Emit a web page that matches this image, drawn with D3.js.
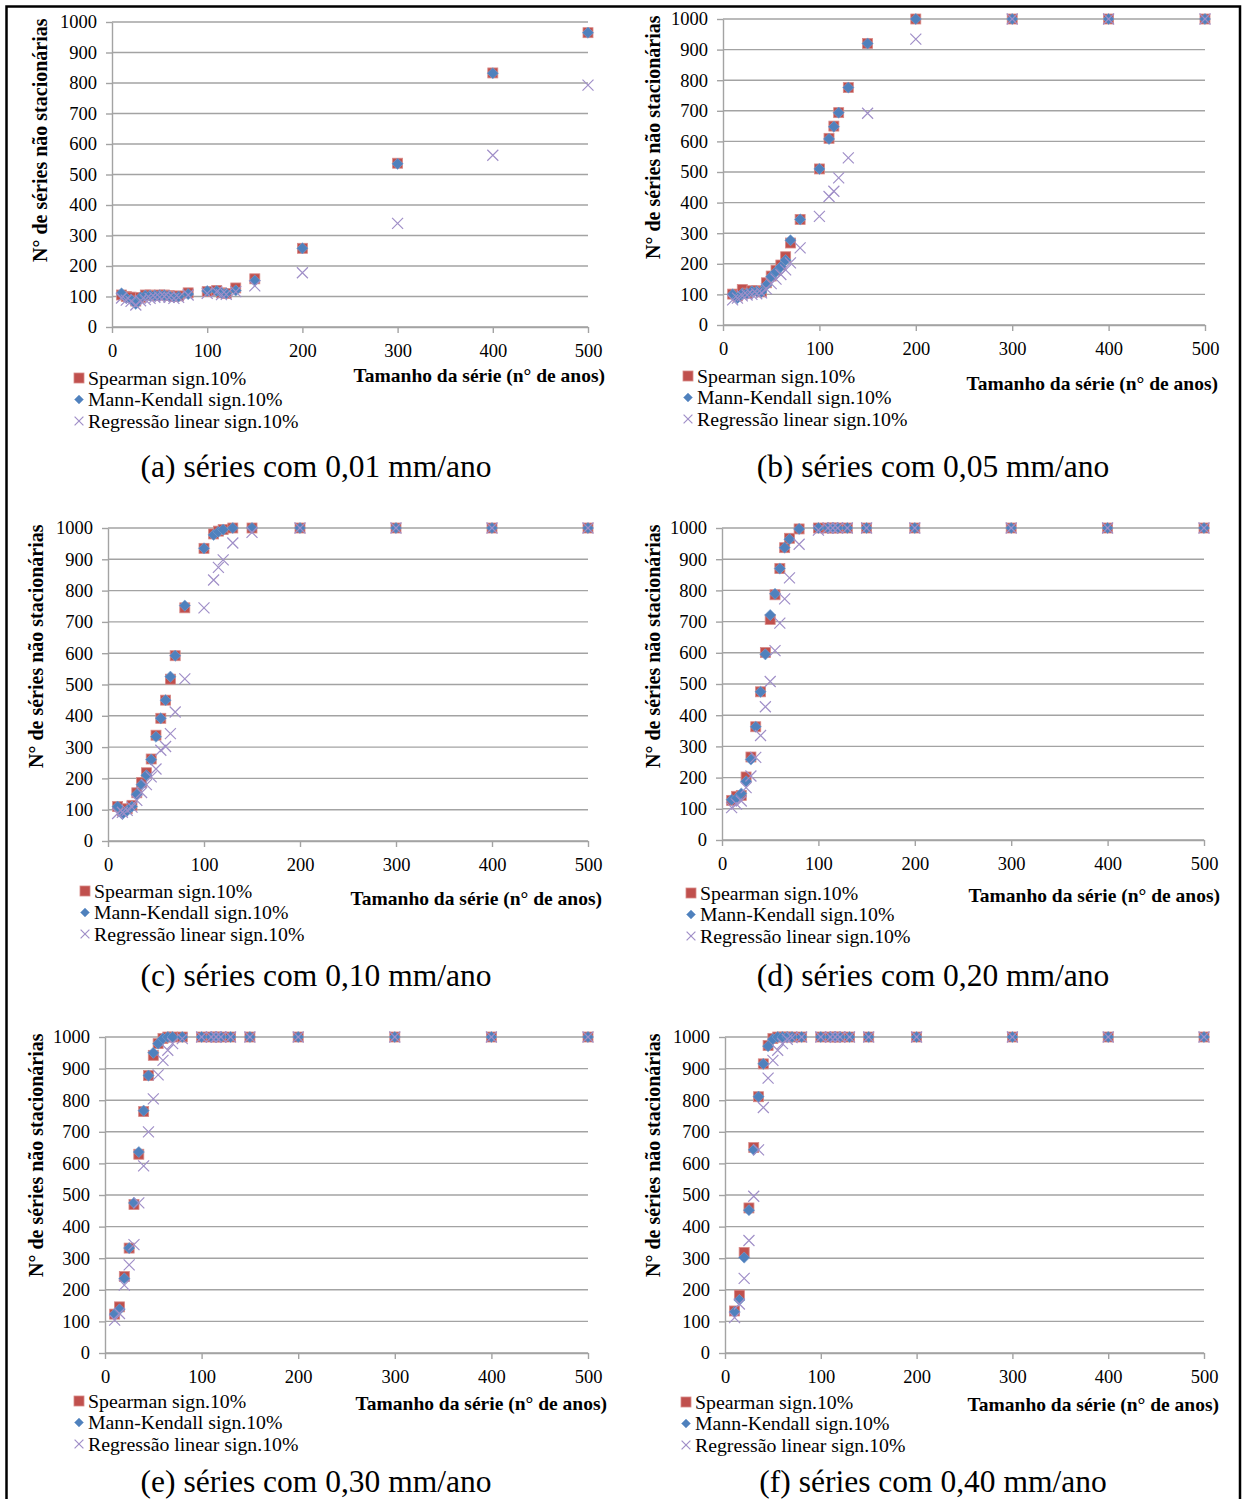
<!DOCTYPE html>
<html>
<head>
<meta charset="utf-8">
<script src="https://cdn.jsdelivr.net/npm/d3@7"></script>
<style>
  html, body { margin: 0; padding: 0; background: #fff; }
  svg { display: block; }
  text { font-family: "Liberation Serif", "Times New Roman", serif; fill: #000; }
</style>
</head>
<body>
<svg id="fig" width="1242" height="1499"></svg>
<script>
// Series length (number of years) shared by every panel
const seriesLength = [10, 15, 20, 25, 30, 35, 40, 45, 50, 55, 60, 65, 70, 80, 100, 110, 115, 120, 130, 150, 200, 300, 400, 500];

const xTicks = [0, 100, 200, 300, 400, 500];
const yTicks = [0, 100, 200, 300, 400, 500, 600, 700, 800, 900, 1000];

const seriesNames = ["Spearman sign.10%", "Mann-Kendall sign.10%", "Regressão linear sign.10%"];
const yTitle = "N° de séries não stacionárias";
const xTitle = "Tamanho da série (n° de anos)";
const captions = [
  "(a) séries com 0,01 mm/ano",
  "(b) séries com 0,05 mm/ano",
  "(c) séries com 0,10 mm/ano",
  "(d) séries com 0,20 mm/ano",
  "(e) séries com 0,30 mm/ano",
  "(f) séries com 0,40 mm/ano"
];

// Trend 0,01 mm/ano
const spearman001 = [105, 100, 98, 85, 97, 105, 105, 103, 105, 105, 103, 100, 102, 112, 116, 120, 112, 110, 128, 158, 258, 537, 833, 965];
const mannKendall001 = [110, 95, 90, 76, 97, 103, 103, 103, 104, 104, 102, 98, 100, 108, 118, 118, 112, 110, 120, 152, 258, 535, 832, 965];
const regressao001 = [95, 88, 84, 72, 86, 90, 94, 97, 98, 100, 97, 94, 97, 105, 110, 115, 106, 107, 116, 135, 178, 340, 563, 793];

// Trend 0,05 mm/ano
const spearman005 = [101, 95, 116, 104, 112, 112, 108, 138, 160, 179, 196, 223, 268, 345, 510, 610, 650, 694, 776, 920, 1000, 1000, 1000, 1000];
const mannKendall005 = [100, 88, 103, 103, 110, 110, 108, 130, 158, 174, 190, 212, 277, 345, 510, 608, 648, 694, 776, 920, 1000, 1000, 1000, 1000];
const regressao005 = [82, 88, 95, 98, 100, 102, 105, 118, 135, 150, 165, 180, 203, 252, 355, 420, 437, 481, 546, 692, 934, 1000, 1000, 1000];

// Trend 0,10 mm/ano
const spearman010 = [110, 97, 103, 114, 154, 187, 218, 262, 338, 392, 450, 517, 592, 745, 935, 981, 990, 995, 1000, 1000, 1000, 1000, 1000, 1000];
const mannKendall010 = [110, 86, 97, 110, 149, 180, 210, 260, 333, 392, 450, 525, 592, 752, 935, 978, 988, 995, 1000, 1000, 1000, 1000, 1000, 1000];
const regressao010 = [88, 92, 98, 108, 130, 155, 180, 205, 230, 290, 302, 343, 412, 518, 745, 834, 874, 898, 952, 986, 1000, 1000, 1000, 1000];

// Trend 0,20 mm/ano
const spearman020 = [127, 140, 143, 202, 266, 363, 475, 601, 707, 786, 870, 937, 967, 997, 1000, 1000, 1000, 1000, 1000, 1000, 1000, 1000, 1000, 1000];
const mannKendall020 = [129, 133, 149, 188, 258, 363, 475, 595, 721, 789, 870, 937, 964, 997, 1000, 1000, 1000, 1000, 1000, 1000, 1000, 1000, 1000, 1000];
const regressao020 = [104, 115, 125, 168, 205, 265, 335, 427, 508, 607, 695, 773, 840, 948, 993, 1000, 1000, 1000, 1000, 1000, 1000, 1000, 1000, 1000];

// Trend 0,30 mm/ano
const spearman030 = [123, 146, 242, 332, 470, 629, 764, 878, 942, 979, 995, 1000, 1000, 1000, 1000, 1000, 1000, 1000, 1000, 1000, 1000, 1000, 1000, 1000];
const mannKendall030 = [123, 138, 236, 332, 475, 636, 767, 878, 950, 979, 995, 1000, 1000, 1000, 1000, 1000, 1000, 1000, 1000, 1000, 1000, 1000, 1000, 1000];
const regressao030 = [104, 125, 215, 279, 343, 475, 592, 700, 804, 880, 926, 958, 979, 995, 1000, 1000, 1000, 1000, 1000, 1000, 1000, 1000, 1000, 1000];

// Trend 0,40 mm/ano
const spearman040 = [133, 183, 318, 459, 650, 811, 915, 973, 995, 1000, 1000, 1000, 1000, 1000, 1000, 1000, 1000, 1000, 1000, 1000, 1000, 1000, 1000, 1000];
const mannKendall040 = [130, 168, 302, 452, 643, 811, 915, 971, 993, 1000, 1000, 1000, 1000, 1000, 1000, 1000, 1000, 1000, 1000, 1000, 1000, 1000, 1000, 1000];
const regressao040 = [112, 155, 236, 356, 496, 643, 777, 870, 926, 958, 979, 993, 998, 1000, 1000, 1000, 1000, 1000, 1000, 1000, 1000, 1000, 1000, 1000];

const panelData = [
  [spearman001, mannKendall001, regressao001],
  [spearman005, mannKendall005, regressao005],
  [spearman010, mannKendall010, regressao010],
  [spearman020, mannKendall020, regressao020],
  [spearman030, mannKendall030, regressao030],
  [spearman040, mannKendall040, regressao040]
];

// Geometry of each sub-plot on the page
const layouts = [
  { x0: 112, x1: 588, yb: 327, yt: 22,  ytx: 40,  lgx: 79,  lgy: 378, xtR: 605,  xtY: 375,  capX: 316, capY: 466 },
  { x0: 723, x1: 1205, yb: 325, yt: 19, ytx: 653, lgx: 688, lgy: 376, xtR: 1218, xtY: 383,  capX: 933, capY: 466 },
  { x0: 108, x1: 588, yb: 841, yt: 528, ytx: 36, lgx: 85,  lgy: 891, xtR: 602,  xtY: 898,  capX: 316, capY: 975 },
  { x0: 722, x1: 1204, yb: 840, yt: 528, ytx: 653, lgx: 691, lgy: 893, xtR: 1220, xtY: 895, capX: 933, capY: 975 },
  { x0: 105, x1: 588, yb: 1353, yt: 1037, ytx: 36, lgx: 79, lgy: 1401, xtR: 607, xtY: 1403, capX: 316, capY: 1481 },
  { x0: 725, x1: 1204, yb: 1353, yt: 1037, ytx: 653, lgx: 686, lgy: 1402, xtR: 1219, xtY: 1404, capX: 933, capY: 1481 }
];

const colors = ["#c0504d", "#4f81bd", "#a08fc8"];
const gridColor = "#a3a3a3";

const svg = d3.select("#fig");

// Marker shapes
function drawMarker(g, kind, cx, cy, s) {
  if (kind === 0) {
    g.append("rect").attr("x", cx - s / 2).attr("y", cy - s / 2)
      .attr("width", s).attr("height", s)
      .attr("fill", colors[0]).attr("stroke", "#d88a88").attr("stroke-width", 0.8);
  } else if (kind === 1) {
    const r = s * 0.56;
    g.append("path").attr("d", `M${cx},${cy - r}L${cx + r},${cy}L${cx},${cy + r}L${cx - r},${cy}Z`)
      .attr("fill", colors[1]).attr("stroke", "#7aa0d0").attr("stroke-width", 0.6);
  } else {
    const r = s * 0.55;
    g.append("path").attr("d", `M${cx - r},${cy - r}L${cx + r},${cy + r}M${cx - r},${cy + r}L${cx + r},${cy - r}`)
      .attr("fill", "none").attr("stroke", colors[2]).attr("stroke-width", 1.2);
  }
}

layouts.forEach((L, i) => {
  const g = svg.append("g");
  const x = d3.scaleLinear().domain([0, 500]).range([L.x0, L.x1]);
  const y = d3.scaleLinear().domain([0, 1000]).range([L.yb, L.yt]);

  // Horizontal gridlines
  g.append("g").selectAll("line").data(yTicks).join("line")
    .attr("x1", L.x0).attr("x2", L.x1)
    .attr("y1", d => y(d)).attr("y2", d => y(d))
    .attr("stroke", gridColor).attr("stroke-width", 1.4);

  // Y axis
  const ya = g.append("g").attr("transform", `translate(${L.x0},0)`)
    .call(d3.axisLeft(y).tickValues(yTicks).tickFormat(d3.format("d"))
      .tickSize(6).tickPadding(9).tickSizeOuter(0));
  ya.select(".domain").attr("stroke", gridColor).attr("stroke-width", 1.4);
  ya.selectAll(".tick line").attr("stroke", gridColor).attr("stroke-width", 1.4);
  ya.selectAll("text").style("font-size", "18.5px");

  // X axis
  const xa = g.append("g").attr("transform", `translate(0,${L.yb})`)
    .call(d3.axisBottom(x).tickValues(xTicks).tickFormat(d3.format("d"))
      .tickSize(6).tickPadding(11).tickSizeOuter(0));
  xa.select(".domain").attr("stroke", gridColor).attr("stroke-width", 1.4);
  xa.selectAll(".tick line").attr("stroke", gridColor).attr("stroke-width", 1.4);
  xa.selectAll("text").style("font-size", "18.5px");

  // Y axis title
  g.append("text")
    .attr("transform", `translate(${L.ytx + 7},${L.yt + 240}) rotate(-90)`)
    .attr("text-anchor", "start")
    .style("font-size", "20px").style("font-weight", "bold")
    .text(yTitle);

  // X axis title
  g.append("text").attr("x", L.xtR).attr("y", L.xtY).attr("dy", "0.35em")
    .attr("text-anchor", "end")
    .style("font-size", "19.5px").style("font-weight", "bold")
    .text(xTitle);

  // Points: Spearman, Mann-Kendall, then linear regression
  panelData[i].forEach((vals, k) => {
    const pg = g.append("g");
    vals.forEach((v, j) => drawMarker(pg, k, x(seriesLength[j]), y(v), 10));
  });

  // Legend
  seriesNames.forEach((name, k) => {
    const cy = L.lgy + k * 21.5;
    const lg = g.append("g");
    drawMarker(lg, k, L.lgx, cy, k === 0 ? 10 : 8);
    lg.append("text").attr("x", L.lgx + 9).attr("y", cy).attr("dy", "0.35em")
      .style("font-size", "19.8px").text(name);
  });

  // Caption
  g.append("text").attr("x", L.capX).attr("y", L.capY).attr("dy", "0.35em")
    .attr("text-anchor", "middle").style("font-size", "31.5px")
    .text(captions[i]);
});

// Figure frame
svg.append("path")
  .attr("d", "M6.5,1499V6.5H1240V1499")
  .attr("fill", "none").attr("stroke", "#000").attr("stroke-width", 2.5);
</script>
</body>
</html>
